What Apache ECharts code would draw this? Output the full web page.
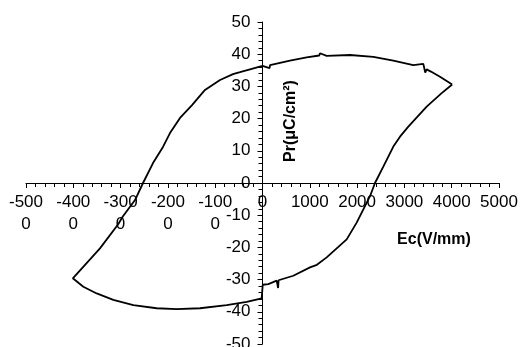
<!DOCTYPE html>
<html>
<head>
<meta charset="utf-8">
<script src="https://cdn.jsdelivr.net/npm/echarts@6/dist/echarts.min.js"></script>
<style>
  html, body { margin: 0; padding: 0; background: #fff; }
  #main { width: 522px; height: 347px; }
</style>
</head>
<body>
<div id="main"></div>
<script>
// hysteresis loop: E field (V/mm) and polarisation (uC/cm2)
var eField = [
  4010, 3753, 3560, 3471, 3440, 3400, 3188, 2766, 2343, 1850, 1357, 1216, 1200, 934, 581, 300, 159, 150, 0, -264, -476, -624, -898, -1216, -1490, -1744, -1956, -2104, -2315, -2526, -2695, -2950, -3055, -3436, -4010,
  -3788, -3505, -3154, -2731, -2237, -1814, -1321, -757, -334, -17, 5, 123, 300, 330, 340, 651, 1004, 1150, 1160, 1357, 1780, 1991, 2273, 2378, 2554, 2766, 2907, 3083, 3471, 3788, 4010
];
var polar = [
  30.6, 33.0, 34.6, 35.3, 34.3, 37.0, 36.6, 38.0, 39.2, 39.75, 39.5, 40.3, 39.6, 39.0, 38.0, 37.1, 36.6, 35.7, 36.4, 35.3, 34.4, 33.8, 32.0, 28.9, 24.2, 20.2, 15.5, 11.2, 6.2, 0, -5.3, -10.3, -12.9, -20.3, -29.6,
  -32.2, -34.3, -36.3, -37.9, -38.9, -39.2, -38.9, -37.9, -36.9, -35.8, -31.6, -31.4, -30.3, -32.6, -30.2, -28.8, -26.2, -25.4, -26.0, -23.1, -17.5, -12.3, -4.1, 0, 5.1, 11.3, 14.4, 17.5, 23.7, 27.9, 30.6
];
var xTickLabels = ['-500\n0', '-400\n0', '-300\n0', '-200\n0', '-100\n0', '0', '1000', '2000', '3000', '4000', '5000'];
var yTickLabels = ['-50', '-40', '-30', '-20', '-10', '0', '10', '20', '30', '40', '50'];

var loop = eField.map(function (x, i) { return [x, polar[i]]; });

var myChart = echarts.init(document.getElementById('main'));

var labelFont = { color: '#000', fontSize: 17, fontFamily: 'Liberation Sans, Arial, sans-serif' };

// grid box: x -5000..5000 -> 26..499, y 50..-50 -> 22..344; axes cross at the origin
var gridLeft = 26, gridRight = 23, gridTop = 22, gridBottom = 3;

var option = {
  animation: false,
  grid: {
    left: gridLeft, right: gridRight, top: gridTop, bottom: gridBottom,
    containLabel: false,
    outerBoundsMode: 'none'
  },
  xAxis: {
    type: 'value',
    min: -5000,
    max: 5000,
    interval: 1000,
    offset: -161,
    splitLine: { show: false },
    axisLine: { onZero: false, lineStyle: { color: '#000', width: 1 } },
    axisTick: { length: 5, lineStyle: { color: '#000' } },
    minorTick: { show: true, splitNumber: 5, length: 4, lineStyle: { color: '#000' } },
    axisLabel: Object.assign({
      margin: 8,
      lineHeight: 22,
      showMinLabel: true,
      showMaxLabel: true,
      hideOverlap: false,
      formatter: function (v) { return xTickLabels[Math.round((v + 5000) / 1000)]; }
    }, labelFont)
  },
  yAxis: {
    type: 'value',
    min: -50,
    max: 50,
    interval: 10,
    offset: -236.5,
    splitLine: { show: false },
    axisLine: { onZero: false, lineStyle: { color: '#000', width: 1 } },
    axisTick: { length: 5, lineStyle: { color: '#000' } },
    minorTick: { show: true, splitNumber: 5, length: 4, lineStyle: { color: '#000' } },
    axisLabel: Object.assign({
      margin: 12,
      showMinLabel: true,
      showMaxLabel: true,
      hideOverlap: false,
      formatter: function (v) { return yTickLabels[Math.round((v + 50) / 10)]; }
    }, labelFont)
  },
  graphic: [
    {
      type: 'text',
      x: 291,
      y: 121,
      rotation: Math.PI / 2,
      style: {
        text: 'Pr(μC/cm²)',
        font: 'bold 16px "Liberation Sans", Arial, sans-serif',
        fill: '#000',
        align: 'center',
        verticalAlign: 'middle'
      }
    },
    {
      type: 'text',
      x: 434,
      y: 240,
      style: {
        text: 'Ec(V/mm)',
        font: 'bold 16px "Liberation Sans", Arial, sans-serif',
        fill: '#000',
        align: 'center',
        verticalAlign: 'middle'
      }
    }
  ],
  series: [
    {
      type: 'line',
      data: loop,
      showSymbol: false,
      smooth: false,
      lineStyle: { color: '#000', width: 1.8 }
    }
  ]
};

myChart.setOption(option);
</script>
</body>
</html>
